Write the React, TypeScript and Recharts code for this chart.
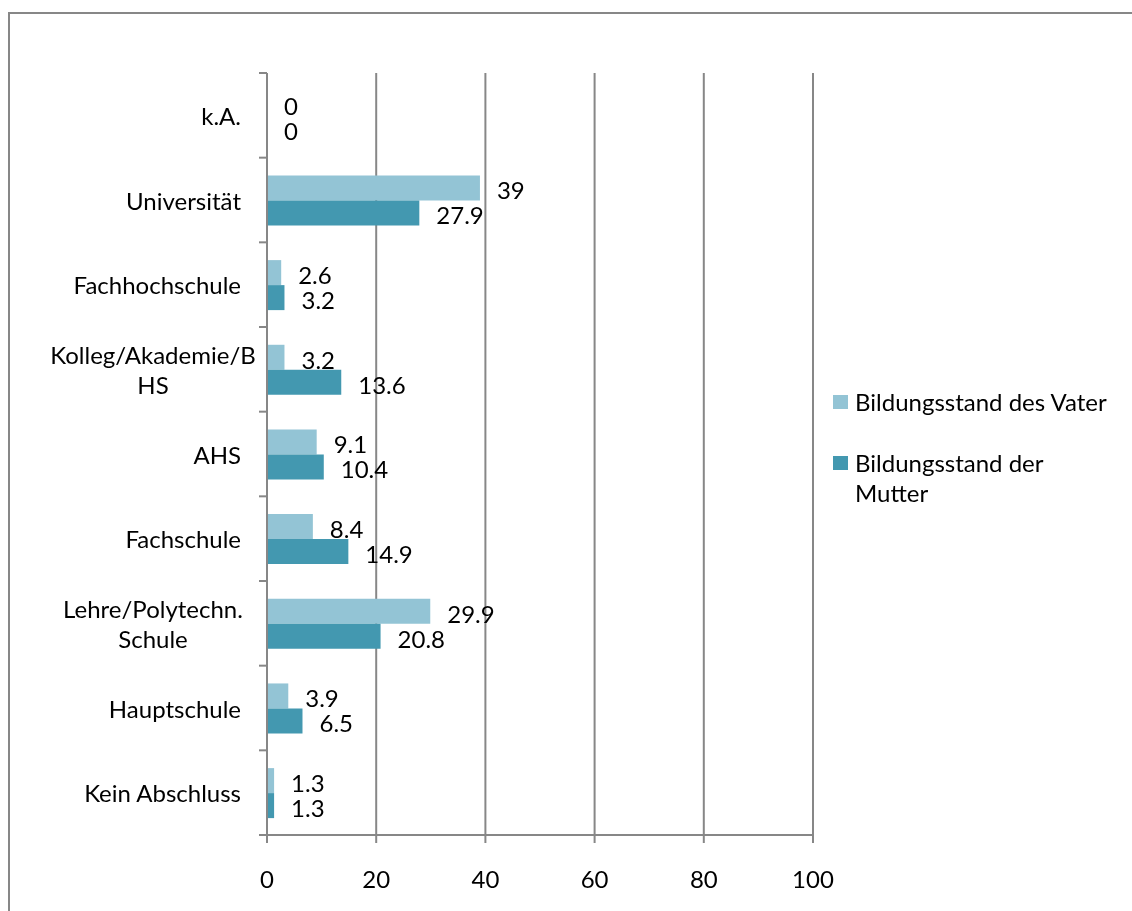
import React from 'react';
import { BarChart, Bar, XAxis, YAxis, CartesianGrid, LabelList, Legend } from 'recharts';

// Categories, top to bottom
const categories = [
  'k.A.',
  'Universität',
  'Fachhochschule',
  'Kolleg/Akademie/BHS',
  'AHS',
  'Fachschule',
  'Lehre/Polytechn. Schule',
  'Hauptschule',
  'Kein Abschluss',
];

// How each category label wraps on the axis
const categoryLines: string[][] = [
  ['k.A.'],
  ['Universität'],
  ['Fachhochschule'],
  ['Kolleg/Akademie/B', 'HS'],
  ['AHS'],
  ['Fachschule'],
  ['Lehre/Polytechn.', 'Schule'],
  ['Hauptschule'],
  ['Kein Abschluss'],
];

const vaterValues = [0, 39, 2.6, 3.2, 9.1, 8.4, 29.9, 3.9, 1.3];
const mutterValues = [0, 27.9, 3.2, 13.6, 10.4, 14.9, 20.8, 6.5, 1.3];

const xTicks = [0, 20, 40, 60, 80, 100];

const seriesNames = ['Bildungsstand des Vater', 'Bildungsstand der Mutter'];
const seriesColors = ['#93C4D5', '#4398B0'];

const data = categories.map((c, i) => ({
  name: c,
  vater: vaterValues[i],
  mutter: mutterValues[i],
}));

const FONT = 'Lato, "Open Sans", sans-serif';
const AXIS_GRAY = '#878787';
const CHART_W = 1124;
const CHART_H = 895;
const MARGIN = { top: 65, right: 319, left: 0, bottom: 0 };
const X_AXIS_H = 68;
const Y_AXIS_W = 259;
const PLOT_H = CHART_H - MARGIN.top - MARGIN.bottom - X_AXIS_H;
const BAND = PLOT_H / categories.length;
const LINE_H = 30;

function CategoryTick(props: any) {
  const { x, y, payload } = props;
  const idx = categories.indexOf(payload.value);
  const lines = categoryLines[idx] || [String(payload.value)];
  const isLast = idx === categories.length - 1;
  return (
    <g>
      <line x1={x - 8} x2={x} y1={y - BAND / 2} y2={y - BAND / 2} stroke={AXIS_GRAY} strokeWidth={2} />
      {isLast && (
        <line x1={x - 8} x2={x} y1={y + BAND / 2} y2={y + BAND / 2} stroke={AXIS_GRAY} strokeWidth={2} />
      )}
      {lines.length === 1 ? (
        <text x={x - 26} y={y} textAnchor="end" dominantBaseline="central" fontSize={24} fill="#000">
          {lines[0]}
        </text>
      ) : (
        lines.map((l, i) => (
          <text
            key={i}
            x={x - 114}
            y={y + (i - (lines.length - 1) / 2) * LINE_H}
            textAnchor="middle"
            dominantBaseline="central"
            fontSize={24}
            fill="#000"
          >
            {l}
          </text>
        ))
      )}
    </g>
  );
}

// Wrap a legend label at word boundaries
function wrapWords(text: string, maxChars: number): string[] {
  const words = text.split(' ');
  const out: string[] = [];
  let cur = '';
  for (const w of words) {
    const next = cur ? cur + ' ' + w : w;
    if (next.length > maxChars && cur) {
      out.push(cur);
      cur = w;
    } else {
      cur = next;
    }
  }
  if (cur) out.push(cur);
  return out;
}

function LegendContent(props: any) {
  const items = [...(props.payload || [])].sort(
    (a: any, b: any) => seriesNames.indexOf(a.value) - seriesNames.indexOf(b.value)
  );
  return (
    <div style={{ fontFamily: FONT, fontSize: 24, color: '#000' }}>
      {items.map((it: any, i: number) => (
        <div key={i} style={{ display: 'flex', alignItems: 'flex-start', marginBottom: 31 }}>
          <div
            style={{
              width: 15,
              height: 14,
              background: it.color,
              marginTop: 8,
              marginRight: 7,
              flexShrink: 0,
            }}
          />
          <div style={{ lineHeight: `${LINE_H}px` }}>
            {wrapWords(String(it.value), 23).map((l, j) => (
              <div key={j}>{l}</div>
            ))}
          </div>
        </div>
      ))}
    </div>
  );
}

export default function App() {
  return (
    <div style={{ position: 'relative', width: CHART_W, height: CHART_H, fontFamily: FONT }}>
      <div
        style={{
          position: 'fixed',
          left: 8,
          top: 12,
          width: 1300,
          height: 1000,
          borderTop: `2px solid ${AXIS_GRAY}`,
          borderLeft: `2px solid ${AXIS_GRAY}`,
          pointerEvents: 'none',
        }}
      />
      <BarChart
        width={CHART_W}
        height={CHART_H}
        data={data}
        layout="vertical"
        margin={MARGIN}
        barGap={0}
        barCategoryGap="21%"
        style={{ fontFamily: FONT }}
      >
        <CartesianGrid horizontal={false} vertical stroke={AXIS_GRAY} strokeWidth={2} />
        <XAxis
          type="number"
          domain={[0, 100]}
          ticks={xTicks}
          height={X_AXIS_H}
          tickSize={8}
          tickMargin={28}
          axisLine={{ stroke: AXIS_GRAY, strokeWidth: 2 }}
          tickLine={{ stroke: AXIS_GRAY, strokeWidth: 2 }}
          tick={{ fontSize: 24, fill: '#000' }}
          interval={0}
        />
        <YAxis
          type="category"
          dataKey="name"
          width={Y_AXIS_W}
          tickSize={0}
          tickMargin={0}
          tickLine={false}
          axisLine={{ stroke: AXIS_GRAY, strokeWidth: 2 }}
          tick={<CategoryTick />}
          interval={0}
        />
        <Legend
          layout="vertical"
          align="center"
          verticalAlign="middle"
          content={<LegendContent />}
          wrapperStyle={{ position: 'absolute', left: 825, top: 379, width: 300 }}
        />
        <Bar
          dataKey="vater"
          name={seriesNames[0]}
          fill={seriesColors[0]}
          minPointSize={0.01}
          isAnimationActive={false}
        >
          <LabelList dataKey="vater" position="right" offset={17} fontSize={24} fill="#000" dy={3} />
        </Bar>
        <Bar
          dataKey="mutter"
          name={seriesNames[1]}
          fill={seriesColors[1]}
          minPointSize={0.01}
          isAnimationActive={false}
        >
          <LabelList dataKey="mutter" position="right" offset={17} fontSize={24} fill="#000" dy={3} />
        </Bar>
      </BarChart>
    </div>
  );
}
